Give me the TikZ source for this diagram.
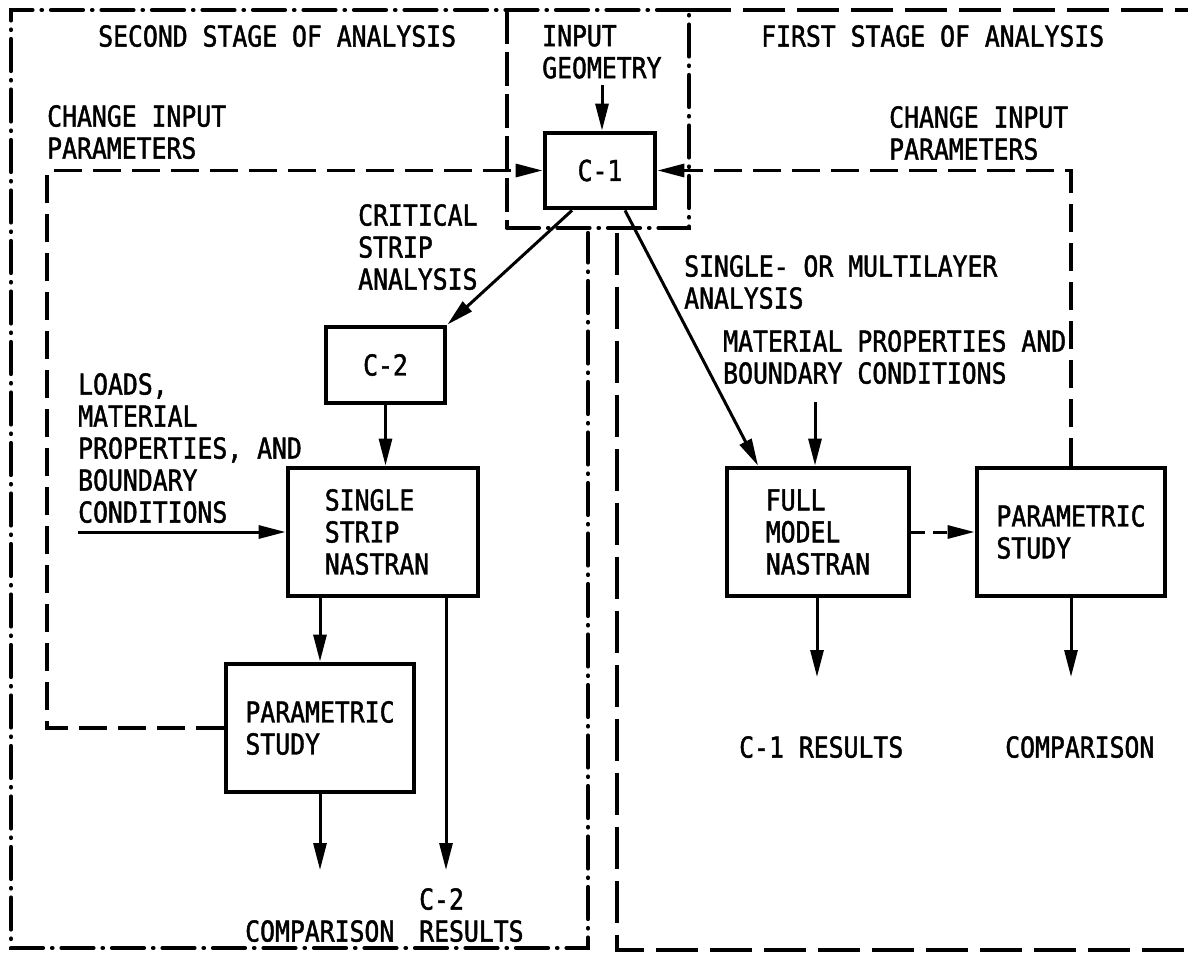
\documentclass[tikz,border=0pt]{standalone}
\usepackage{fontspec}
\newfontfamily\lett[FakeStretch=0.86,FakeBold=1.5]{DejaVu Sans Mono}
\usetikzlibrary{arrows.meta}
\begin{document}
\begin{tikzpicture}[x=1pt,y=-1pt,
  every node/.style={font=\lett\fontsize{28.8}{32}\selectfont, inner sep=0pt},
  lbl/.style={anchor=north west, align=left},
  blk/.style={draw, line width=4.8pt, align=left},
  tip/.style={-{Triangle[length=27pt,width=13pt]}},
  arr/.style={line width=3pt, tip},
  fb/.style={line width=3.2pt, dash pattern=on 28pt off 11pt},
  ddot/.style={line width=4.2pt, line cap=round, dash pattern=on 32pt off 9pt on 0.5pt off 9pt},
  dsh/.style={line width=4.2pt, dash pattern=on 42pt off 12pt},
  igdsh/.style={line width=4.2pt, dash pattern=on 34pt off 8pt}]
\useasboundingbox[fill=white] (0,0) rectangle (1188,957);

% frames
\coordinate (tl) at (11,10);
\coordinate (igtr) at (689,10);
\coordinate (igtl) at (507,10);
\coordinate (tr) at (1188,10);
\coordinate (bl) at (11,948);
\coordinate (lbr) at (588,948);
\coordinate (lrt) at (588,233);
\coordinate (igbl) at (507,228);
\coordinate (igbr) at (689,228);
\coordinate (rlt) at (617,233);
\coordinate (rlb) at (617,950);
\coordinate (rbr) at (1188,950);
\draw[ddot] (igtr) -- (tl) -- (bl) -- (lbr) -- (lrt);
\draw[igdsh] (igtl) -- (igbl);
\draw[ddot] (igbl) -- (igbr) -- (igtr);
\draw[dsh] (igtr) -- (tr);
\draw[dsh] (rlt) -- (rlb) -- (rbr);

% boxes
\node[blk, minimum width=110pt, minimum height=75pt] (c1) at (600,170.5) {C-1};
\node[blk, minimum width=119pt, minimum height=76pt] (c2) at (385.5,365) {C-2};
\node[blk, minimum width=190pt, minimum height=128pt] (ss) at (383,532) {\hspace*{-12pt}SINGLE\\\hspace*{-12pt}STRIP\\\hspace*{-12pt}NASTRAN};
\node[blk, minimum width=188pt, minimum height=128pt] (ps2) at (320,728) {PARAMETRIC\\STUDY};
\node[blk, minimum width=182pt, minimum height=128pt] (fm) at (818,532) {FULL\\MODEL\\NASTRAN};
\node[blk, minimum width=188pt, minimum height=128pt] (ps1) at (1071,532) {PARAMETRIC\\STUDY};

% labels
\node[lbl] (t2) at (98,25) {SECOND STAGE OF ANALYSIS};
\node[lbl] (tig) at (542,25) {INPUT\\GEOMETRY};
\node[lbl] (t1) at (761,25) {FIRST STAGE OF ANALYSIS};
\node[lbl] (cl) at (47,105) {CHANGE INPUT\\PARAMETERS};
\node[lbl] (cr) at (889,106) {CHANGE INPUT\\PARAMETERS};
\node[lbl] (crit) at (358,204) {CRITICAL\\STRIP\\ANALYSIS};
\node[lbl] (loads) at (78,373) {LOADS,\\MATERIAL\\PROPERTIES, AND\\BOUNDARY\\CONDITIONS};
\node[lbl] (sml) at (684,255) {SINGLE- OR MULTILAYER\\ANALYSIS};
\node[lbl] (mpb) at (723,330) {MATERIAL PROPERTIES AND\\BOUNDARY CONDITIONS};
\node[lbl] (c1res) at (739,736) {C-1 RESULTS};
\node[lbl] (cmp1) at (1005,736) {COMPARISON};
\node[lbl] (cmp2) at (245,920) {COMPARISON};
\node[lbl] (c2res) at (419,888) {C-2\\RESULTS};

% connector ends
\coordinate (igsrc) at (602,85);
\coordinate (lc) at (47,170.5);
\coordinate (ld) at (78,532);
\coordinate (c2end) at (320,870);
\coordinate (c2r) at (446,870);
\coordinate (mat) at (815,402);
\coordinate (c1r) at (817,677);

% connectors
\draw[arr] (igsrc) -- (igsrc |- c1.north);
\draw[fb, tip] (ps2.west) -| (lc) -- (c1.west);
\draw[fb, tip] (ps1.north) |- (c1.east);
\draw[arr] ([xshift=-28pt]c1.south) -- (c2.north east);
\draw[arr] ([xshift=25pt]c1.south) -- ([xshift=-60pt]fm.north);
\draw[arr] (c2.south) -- (c2.south |- ss.north);
\draw[arr] (ld) -- (ss.west);
\draw[arr] (ps2.north |- ss.south) -- (ps2.north);
\draw[arr] (ps2.south) -- (c2end);
\draw[arr] (c2r |- ss.south) -- (c2r);
\draw[arr] (mat) -- (mat |- fm.north);
\draw[arr, dash pattern=on 14pt off 8pt] (fm.east) -- (ps1.west);
\draw[arr] (c1r |- fm.south) -- (c1r);
\draw[arr] (ps1.south) -- (ps1.south |- c1r);
\end{tikzpicture}
\end{document}
